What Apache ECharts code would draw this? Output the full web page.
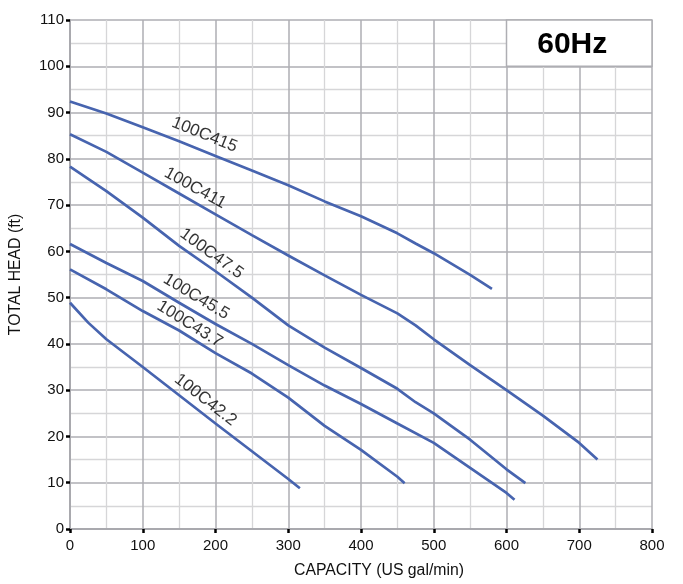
<!DOCTYPE html>
<html>
<head>
<meta charset="utf-8">
<script src="https://cdn.jsdelivr.net/npm/echarts@6/dist/echarts.min.js"></script>
<style>html,body{margin:0;padding:0;background:#fff}#c{width:683px;height:584px}</style>
</head>
<body>
<div id="c"></div>
<script>
// ---- data ----
const xAxisRange = [0, 800, 100];   // min, max, interval (US gal/min)
const yAxisRange = [0, 110, 10];    // min, max, interval (ft)
const curveNames = ['100C415', '100C411', '100C47.5', '100C45.5', '100C43.7', '100C42.2'];
const curve415  = [[0,92.4],[50,89.8],[100,86.8],[150,83.8],[200,80.6],[250,77.5],[300,74.3],[350,70.8],[400,67.6],[450,63.9],[475,61.7],[500,59.6],[550,54.9],[580,51.9]];
const curve411  = [[0,85.3],[50,81.5],[100,77],[150,72.5],[200,68],[250,63.5],[300,59.1],[350,54.8],[400,50.6],[450,46.6],[475,44],[500,41],[550,35.4],[600,30],[650,24.5],[700,18.6],[725,15]];
const curve475  = [[0,78.3],[50,73],[100,67.3],[150,61.2],[200,55.7],[250,50],[300,44],[350,39.2],[400,34.8],[450,30.3],[475,27.4],[500,25],[550,19.3],[600,12.9],[626,9.9]];
const curve455  = [[0,61.6],[50,57.5],[100,53.6],[150,48.9],[200,44.3],[250,40],[300,35.4],[350,31],[400,27],[450,22.8],[500,18.6],[550,13.2],[600,7.8],[611,6.3]];
const curve437  = [[0,56.1],[50,51.8],[100,47.1],[150,42.9],[200,38],[250,33.6],[300,28.4],[350,22.3],[400,17.1],[450,11.3],[460,9.9]];
const curve422  = [[0,48.9],[25,44.6],[50,41],[100,35],[150,28.9],[200,22.8],[250,16.8],[300,10.8],[316,8.8]];
const curveData = [curve415, curve411, curve475, curve455, curve437, curve422];
const labelPos   = [[185,85.2],[172,73.7],[194.5,59.5],[173.6,50.2],[164.5,44.3],[186.3,27.9]];
const labelAngle = [-22, -29, -36, -31, -32, -38];
const freqText = '60Hz';
const freqBox  = [[600,100],[800,110]];

// ---- chart ----
const FONT = 'Liberation Sans, Arial, sans-serif';
const LINE = '#4764af';
const MAJOR = '#aeaeb3';
const MINOR = '#d6d6d8';
const chart = echarts.init(document.getElementById('c'), null, {renderer: 'canvas'});

function axisCommon(range) {
  return {
    type: 'value', min: range[0], max: range[1], interval: range[2],
    axisLine: {show: true, onZero: false, lineStyle: {color: '#a9a9ae', width: 2}},
    axisTick: {show: true, length: 4, lineStyle: {color: '#000', width: 2.5}},
    axisLabel: {color: '#111', fontSize: 15, fontFamily: FONT},
    splitLine: {show: true, lineStyle: {color: MAJOR, width: 1.5}},
    minorTick: {show: false, splitNumber: 2},
    minorSplitLine: {show: true, lineStyle: {color: MINOR, width: 1.3}},
    nameTextStyle: {color: '#111', fontSize: 15.8, fontFamily: FONT}
  };
}

const xAxis = Object.assign(axisCommon(xAxisRange), {
  name: 'CAPACITY (US gal/min)', nameLocation: 'middle', nameGap: 34
});
xAxis.axisLabel.margin = 9;
xAxis.nameTextStyle.padding = [0, 0, 0, 36];

const yAxis = Object.assign(axisCommon(yAxisRange), {
  name: 'TOTAL HEAD (ft)', nameLocation: 'middle', nameGap: 46
});
yAxis.axisLabel.margin = 6;

const series = curveNames.map((n, i) => ({
  name: n, type: 'line', data: curveData[i], showSymbol: false, symbol: 'none',
  smooth: false, lineStyle: {color: LINE, width: 2.7}, z: 3, silent: true
}));

series.push({
  type: 'scatter', symbolSize: 1, itemStyle: {color: 'transparent'}, z: 4, silent: true,
  data: labelPos.map((p, i) => ({
    value: p,
    label: {show: true, position: 'inside', formatter: curveNames[i], rotate: labelAngle[i],
      fontSize: 17, fontFamily: FONT, color: '#000', align: 'center', verticalAlign: 'middle'}
  })),
  markArea: {
    silent: true,
    itemStyle: {color: '#ffffff', borderColor: MAJOR, borderWidth: 1.5, opacity: 1},
    label: {show: true, position: 'inside', formatter: freqText, fontSize: 30, fontWeight: 'bold',
      fontFamily: FONT, color: '#000', offset: [-7, 2]},
    data: [[{coord: freqBox[0]}, {coord: freqBox[1]}]]
  }
});

chart.setOption({
  animation: false,
  backgroundColor: '#fff',
  grid: {left: 67, right: 31, top: 20, bottom: 51, containLabel: false},
  xAxis: xAxis,
  yAxis: yAxis,
  series: series
});
</script>
</body>
</html>
